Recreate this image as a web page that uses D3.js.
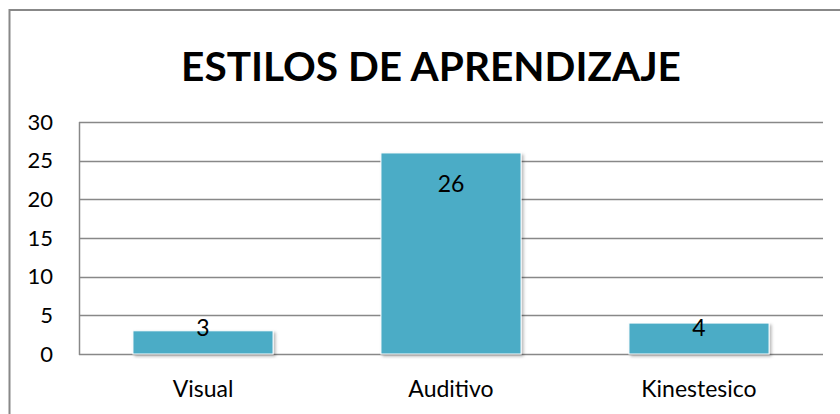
<!DOCTYPE html>
<html>
<head>
<meta charset="utf-8">
<script src="https://cdn.jsdelivr.net/npm/d3@7"></script>
<style>
  html, body { margin: 0; padding: 0; background: #fff; }
  svg { display: block; }
  text { font-family: Lato, "Open Sans", sans-serif; fill: #000; }
</style>
</head>
<body>
<svg id="chart" width="840" height="414"></svg>
<script>
const title = "ESTILOS DE APRENDIZAJE";
const categories = ["Visual", "Auditivo", "Kinestesico"];
const values = [3, 26, 4];
const yTicks = [0, 5, 10, 15, 20, 25, 30];

const W = 840, H = 414;
const margin = { left: 79, right: 18, top: 122, bottom: 60 };
const svg = d3.select("#chart");

const defs = svg.append("defs");
const f = defs.append("filter").attr("id", "shadow")
  .attr("x", "-10%").attr("y", "-10%").attr("width", "130%").attr("height", "130%");
f.append("feDropShadow").attr("dx", 2).attr("dy", 2).attr("stdDeviation", 1.8)
  .attr("flood-color", "#000").attr("flood-opacity", 0.28);

// outer chart border
svg.append("rect").attr("x", 9.5).attr("y", 10).attr("width", W + 20).attr("height", H + 20)
  .attr("fill", "none").attr("stroke", "#888").attr("stroke-width", 2);

const x = d3.scaleBand().domain(categories).range([margin.left, 823]).paddingInner(0.435).paddingOuter(0.2175);
const y = d3.scaleLinear().domain([0, 30]).range([354, 122]);

// gridlines
svg.append("g").selectAll("line").data(yTicks).join("line")
  .attr("x1", margin.left).attr("x2", 823)
  .attr("y1", d => Math.round(y(d)) + 0.5).attr("y2", d => Math.round(y(d)) + 0.5)
  .attr("stroke", "#888").attr("stroke-width", 1.5);

// y axis line
svg.append("line").attr("x1", margin.left + 0.5).attr("x2", margin.left + 0.5)
  .attr("y1", y(30)).attr("y2", y(0) + 1).attr("stroke", "#888").attr("stroke-width", 1.5);

// y tick labels
const yAxis = d3.axisLeft(y).tickValues(yTicks).tickSize(0).tickPadding(26);
const ga = svg.append("g").attr("transform", `translate(${margin.left},0)`).call(yAxis);
ga.select(".domain").remove();
ga.selectAll("text").attr("font-size", 22).attr("font-family", "Lato, 'Open Sans', sans-serif").attr("fill", "#000");

// bars
svg.append("g").selectAll("rect").data(values).join("rect")
  .attr("x", (d, i) => x(categories[i]))
  .attr("y", d => y(d))
  .attr("width", x.bandwidth())
  .attr("height", d => y(0) - y(d))
  .attr("fill", "#4BACC6")
  .attr("stroke", "#fff").attr("stroke-width", 1)
  .attr("filter", "url(#shadow)");

// value labels
svg.append("g").selectAll("text").data(values).join("text")
  .attr("x", (d, i) => x(categories[i]) + x.bandwidth() / 2)
  .attr("y", d => Math.min(y(d) + 39, y(0) - 18))
  .attr("text-anchor", "middle").attr("font-size", 23)
  .text(d => d);

// category labels
svg.append("g").selectAll("text").data(categories).join("text")
  .attr("x", d => x(d) + x.bandwidth() / 2)
  .attr("y", 397)
  .attr("text-anchor", "middle").attr("font-size", 23)
  .text(d => d);

// title fitted to width
const t = svg.append("text").attr("x", 431).attr("y", 81)
  .attr("text-anchor", "middle").attr("font-weight", 700).attr("font-size", 46)
  .text(title);
const len = t.node().getComputedTextLength();
t.attr("font-size", 46 * 500 / len);
</script>
</body>
</html>
